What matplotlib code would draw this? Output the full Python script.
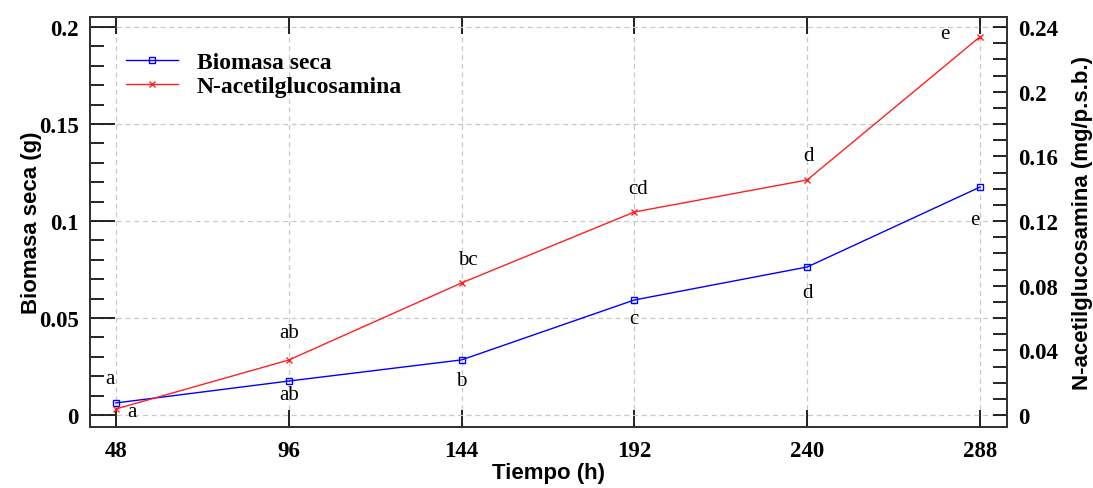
import matplotlib.pyplot as plt
from matplotlib.ticker import MultipleLocator

# data
tiempo = [48, 96, 144, 192, 240, 288]
biomasa = [0.0062, 0.0175, 0.0284, 0.0593, 0.0763, 0.1175]
nag = [0.0037, 0.0340, 0.0817, 0.1256, 0.1454, 0.2340]
letras_bio = ['a', 'ab', 'b', 'c', 'd', 'e']
letras_nag = ['a', 'ab', 'bc', 'cd', 'd', 'e']

# label offsets (pixels)
off_bio = [(-6, 24), (0, -13), (0, -21), (0, -19), (0, -25), (-5, -32)]
off_nag = [(16, -2), (0, 28), (6, 23), (4, 23), (1, 24), (-35, 3)]

serif = 'Liberation Serif'
sans = 'Liberation Sans'

fig = plt.figure(figsize=(10.93, 4.89), dpi=100)
ax = fig.add_axes([0.0823, 0.1247, 0.8390, 0.8385])
ax2 = ax.twinx()

l1, = ax.plot(tiempo, biomasa, color='#0000ff', lw=1, marker='s', ms=5,
              mfc='none', mec='#0000ff', mew=1, label='Biomasa seca')
l2, = ax2.plot(tiempo, nag, color='#ff2020', lw=1, marker='x', ms=5,
               mew=1, label='N-acetilglucosamina')

ax.set_xlim(40.8, 295.5)
ax.set_ylim(-0.0062, 0.2052)
ax2.set_ylim(-0.0062 * 1.2, 0.2052 * 1.2)

ax.set_xticks(tiempo)
ax.yaxis.set_major_locator(MultipleLocator(0.05))
ax.yaxis.set_minor_locator(MultipleLocator(0.01))
ax2.yaxis.set_major_locator(MultipleLocator(0.04))
ax2.yaxis.set_minor_locator(MultipleLocator(0.01))

ax.set_yticklabels(['0' if abs(v) < 1e-9 else f'{v:g}' for v in ax.get_yticks()])
ax2.set_yticklabels(['0' if abs(v) < 1e-9 else f'{v:g}' for v in ax2.get_yticks()])

ax.grid(True, which='major', ls=(0, (4, 3)), color='#c8c8c8', lw=0.9)
ax.set_axisbelow(True)

ax.tick_params(axis='y', which='major', direction='in', length=18, width=1.2,
               right=False, pad=8)
ax.tick_params(axis='y', which='minor', direction='in', length=10, width=1.2,
               right=False)
ax.tick_params(axis='x', which='major', direction='in', length=12, width=1.2,
               top=True, pad=9)
ax2.tick_params(axis='y', which='major', direction='in', length=10, width=1.2, pad=8)
ax2.tick_params(axis='y', which='minor', direction='in', length=10, width=1.2)

for lab in ax.get_xticklabels() + ax.get_yticklabels() + ax2.get_yticklabels():
    lab.set_fontfamily(serif)
    lab.set_fontweight('bold')
    lab.set_fontsize(16.5)

for a in (ax, ax2):
    for s in a.spines.values():
        s.set_linewidth(1.4)
        s.set_color('#333333')

ax.set_xlabel('Tiempo (h)', fontfamily=sans, fontweight='bold', fontsize=16, labelpad=1)
ax.set_ylabel('Biomasa seca (g)', fontfamily=sans, fontweight='bold', fontsize=16, labelpad=-2)
ax2.set_ylabel('N-acetilglucosamina (mg/p.s.b.)', fontfamily=sans, fontweight='bold',
               fontsize=16, labelpad=10)

for x, y, t, o in zip(tiempo, biomasa, letras_bio, off_bio):
    ax.annotate(t, (x, y), xytext=o, textcoords='offset pixels', ha='center',
                va='center', fontfamily=serif, fontsize=15)
for x, y, t, o in zip(tiempo, nag, letras_nag, off_nag):
    ax2.annotate(t, (x, y), xytext=o, textcoords='offset pixels', ha='center',
                 va='center', fontfamily=serif, fontsize=15)

leg = ax.legend([l1, l2], ['Biomasa seca', 'N-acetilglucosamina'], loc='upper left',
                bbox_to_anchor=(0.016, 0.967), frameon=False, handlelength=2.2,
                handletextpad=0.8, labelspacing=0.1,
                prop={'family': serif, 'weight': 'bold', 'size': 17})

fig.savefig('out.png', dpi=100)
